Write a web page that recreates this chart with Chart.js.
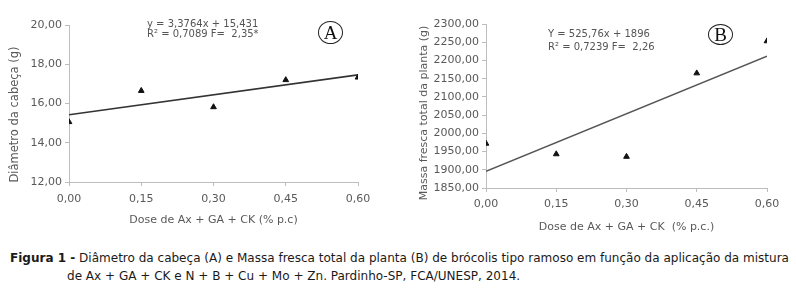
<!DOCTYPE html>
<html><head><meta charset="utf-8">
<script src="https://cdn.jsdelivr.net/npm/chart.js@4/dist/chart.umd.min.js"></script>
<style>
html,body{margin:0;padding:0;background:#fff;}
#wrap{position:relative;width:796px;height:289px;overflow:hidden;background:#fff;}
canvas{position:absolute;top:0;}
.eq{position:absolute;font-family:"DejaVu Sans",sans-serif;font-size:10px;color:#555;white-space:nowrap;}
.lab{position:absolute;border:1px solid #222;border-radius:50%;font-family:"Liberation Serif",serif;font-size:19px;color:#111;text-align:center;box-sizing:border-box;}
.cap{position:absolute;font-family:"DejaVu Sans",sans-serif;font-size:12.5px;color:#1a1a1a;white-space:nowrap;line-height:18px;transform-origin:0 0;}
</style></head>
<body><div id="wrap">
<canvas id="cA" width="400" height="235" style="left:0;width:400px;height:235px"></canvas>
<canvas id="cB" width="396" height="235" style="left:400px;width:396px;height:235px"></canvas>
<div class="eq" style="left:147px;top:19px;line-height:10px">y = 3,3764x + 15,431<br>R² = 0,7089 F=&nbsp; 2,35*</div>
<div class="lab" style="left:318px;top:21px;width:25px;height:23px;line-height:21px">A</div>
<div class="eq" style="left:548px;top:27px;line-height:13px">Y = 525,76x + 1896<br>R² = 0,7239 F=&nbsp; 2,26</div>
<div class="lab" style="left:708px;top:24px;width:25px;height:21px;line-height:19px">B</div>
<div id="cap1" class="cap" style="left:10px;top:249px"><b>Figura 1 -</b> Diâmetro da cabeça (A) e Massa fresca total da planta (B) de brócolis tipo ramoso em função da aplicação da mistura</div>
<div id="cap2" class="cap" style="left:67px;top:267px">de Ax + GA + CK e N + B + Cu + Mo + Zn. Pardinho-SP, FCA/UNESP, 2014.</div>
</div>
<script>
// Data
const doses = [0, 0.15, 0.30, 0.45, 0.60];
const diametroA = [15.06, 16.65, 15.82, 17.20, 17.33];
const trendXA = [0, 0.60];
const trendYA = [15.43, 17.46];
const massaB = [1972, 1943, 1936, 2165, 2253];
const trendXB = [0, 0.60];
const trendYB = [1896, 2211.5];
const xTicks = [0, 0.15, 0.30, 0.45, 0.60];
const yTicksA = [12, 14, 16, 18, 20];
const yTicksB = [1850, 1900, 1950, 2000, 2050, 2100, 2150, 2200, 2250, 2300];

// fit the caption to the reference line width
(function () {
  const c1 = document.getElementById('cap1'), c2 = document.getElementById('cap2');
  const s = 779 / c1.getBoundingClientRect().width;
  c1.style.transform = 'scaleX(' + s + ')';
  c2.style.transform = 'scaleX(' + s + ')';
})();

const fmt = v => Number(v).toFixed(2).replace('.', ',');
const FONT = "'DejaVu Sans', sans-serif";
const TXT = '#595959';
const AX = '#bdbdbd';

function makeChart(id, ys, tx, ty, yTicks, ytitle, xtitle, lay, lineColor) {
  const pts = doses.map((x, i) => ({x: x, y: ys[i]}));
  const tr = tx.map((x, i) => ({x: x, y: ty[i]}));
  return new Chart(document.getElementById(id), {
    type: 'scatter',
    data: {datasets: [
      {type: 'line', data: tr, borderColor: lineColor, borderWidth: lay.lw, pointRadius: 0, fill: false, order: 2},
      {data: pts, pointStyle: 'triangle', pointRadius: 3.3, backgroundColor: '#111', borderColor: '#111', borderWidth: 1, order: 1}
    ]},
    options: {
      responsive: false, animation: false, devicePixelRatio: 1,
      layout: {padding: {left: 0, right: lay.right, top: lay.top, bottom: 0}},
      plugins: {legend: {display: false}, tooltip: {enabled: false}},
      scales: {
        x: {type: 'linear', min: 0, max: 0.6,
          afterBuildTicks: s => { s.ticks = xTicks.map(v => ({value: v})); },
          afterFit: s => { s.height = lay.xh; },
          grid: {drawOnChartArea: false, drawTicks: true, tickLength: 4, color: AX},
          border: {display: true, color: AX, width: 1},
          ticks: {callback: v => fmt(v), color: TXT, font: {family: FONT, size: 11}, padding: lay.xpad, maxRotation: 0},
          title: {display: true, text: xtitle, color: TXT, font: {family: FONT, size: 11}, padding: {top: 0, bottom: lay.xtp}}
        },
        y: {type: 'linear', min: yTicks[0], max: yTicks[yTicks.length - 1],
          afterBuildTicks: s => { s.ticks = yTicks.map(v => ({value: v})); },
          afterFit: s => { s.width = lay.yw; },
          grid: {drawOnChartArea: false, drawTicks: true, tickLength: 4, color: AX},
          border: {display: true, color: AX, width: 1},
          ticks: {callback: v => fmt(v), color: TXT, font: {family: FONT, size: 11}, padding: 3},
          title: {display: true, text: ytitle + lay.ypadText, color: TXT, font: {family: FONT, size: lay.ytf}, padding: {top: lay.ytp, bottom: 0}}
        }
      }
    }
  });
}

makeChart('cA', diametroA, trendXA, trendYA, yTicksA, 'Diâmetro da cabeça (g)', 'Dose de Ax + GA + CK (% p.c)',
  {right: 42, top: 25, xh: 53, yw: 69, xtp: 8, ytp: 8, lw: 1.6, xpad: 7, ytf: 11.5, ypadText: '\u00a0\u00a0\u00a0\u00a0\u00a0\u00a0'}, '#333');
makeChart('cB', massaB, trendXB, trendYB, yTicksB, 'Massa fresca total da planta (g)', 'Dose de Ax + GA + CK  (% p.c.)',
  {right: 29, top: 24, xh: 47, yw: 86, xtp: 1, ytp: 18, lw: 1.4, xpad: 6, ytf: 11, ypadText: '\u00a0\u00a0\u00a0\u00a0'}, '#555');
</script>
</body></html>
